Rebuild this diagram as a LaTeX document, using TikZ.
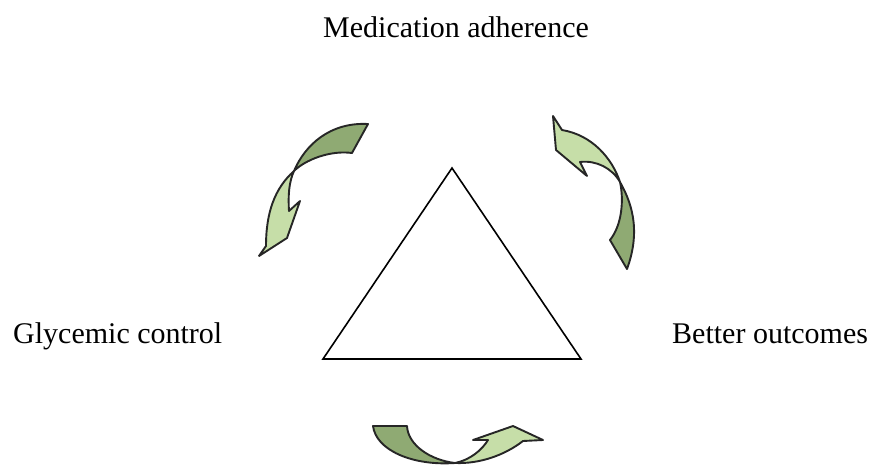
\documentclass[tikz,border=0pt]{standalone}
\usepackage{fontspec}
\setmainfont{Liberation Serif}
\usepackage{xcolor}
\usepackage{tikz}
\definecolor{leafdark}{RGB}{143,170,115}
\definecolor{leaflight}{RGB}{198,222,168}
\begin{document}
\begin{tikzpicture}[x=1pt, y=-1pt, every node/.style={font=\fontsize{30}{36}\selectfont, inner sep=0pt, anchor=base west},
    tailpart/.style={fill=leafdark, draw=black!85, line width=1.9pt, line join=round},
    headpart/.style={fill=leaflight, draw=black!85, line width=1.9pt, line join=round}]
    \useasboundingbox (0,0) rectangle (871,464);
    % labels round the triangle
    \node (med) at (323,37) {Medication adherence};
    \node (gly) at (13,343) {Glycemic control};
    \node (out) at (672,343) {Better outcomes};
    % the triangle
    \coordinate (apex) at (452,168);
    \coordinate (lft) at (323,359);
    \coordinate (rgt) at (581,359);
    \draw[line width=1.6pt, line join=miter] (apex) -- (rgt) -- (lft) -- cycle;
    % twisted arrows
    \coordinate (tw1) at (294,171);
    \coordinate (tw2) at (620,182);
    \coordinate (tw3) at (455,463);
    \draw[tailpart] (368,124) .. controls (330,122) and (305,145) .. (tw1) .. controls (305,160) and (330,150) .. (352,153) -- cycle;
    \draw[headpart] (tw1) .. controls (275,188) and (266,212) .. (266,246) -- (259,256) -- (287,238) -- (300,201) -- (289,211) .. controls (288,195) and (289,182) .. (tw1) -- cycle;
    \draw[tailpart] (tw2) .. controls (630,200) and (642,228) .. (627,269) -- (610,240) .. controls (622,225) and (624,200) .. (tw2) -- cycle;
    \draw[headpart] (tw2) .. controls (612,158) and (592,135) .. (562,130) -- (553,116) -- (556,150) -- (587,176) -- (580,162) .. controls (596,160) and (612,168) .. (tw2) -- cycle;
    \draw[tailpart] (373,426) -- (407,426) .. controls (408,445) and (430,460) .. (tw3) .. controls (412,466) and (376,450) .. (373,426) -- cycle;
    \draw[headpart] (tw3) .. controls (470,460) and (482,450) .. (488,440) -- (473,440) -- (513,426) -- (543,440) -- (523,441) .. controls (505,455) and (480,464) .. (tw3) -- cycle;
  \end{tikzpicture}
\end{document}
